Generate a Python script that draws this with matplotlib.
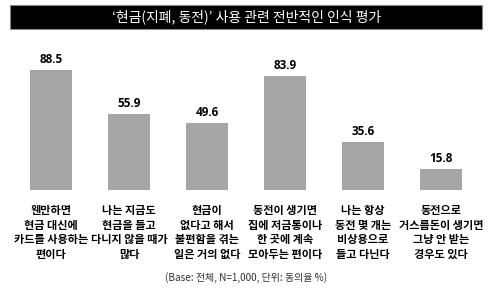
import matplotlib.pyplot as plt
from matplotlib.patches import Rectangle

plt.rcParams['font.family'] = ['Noto Sans CJK KR', 'DejaVu Sans']

title = "‘현금(지폐, 동전)’ 사용 관련 전반적인 인식 평가"
labels = [
    "웬만하면\n현금 대신에\n카드를 사용하는\n편이다",
    "나는 지금도\n현금을 들고\n다니지 않을 때가\n많다",
    "현금이\n없다고 해서\n불편함을 겪는\n일은 거의 없다",
    "동전이 생기면\n집에 저금통이나\n한 곳에 계속\n모아두는 편이다",
    "나는 항상\n동전 몇 개는\n비상용으로\n들고 다닌다",
    "동전으로\n거스름돈이 생기면\n그냥 안 받는\n경우도 있다",
]
values = [88.5, 55.9, 49.6, 83.9, 35.6, 15.8]
note = "(Base: 전체, N=1,000, 단위: 동의율 %)"

fig = plt.figure(figsize=(4.93, 3.03), dpi=100)
fig.patch.set_facecolor('white')

# title bar
fig.patches.append(Rectangle((10 / 493, 1 - 29 / 303), 472 / 493, 24 / 303,
                             transform=fig.transFigure, facecolor='black',
                             edgecolor='#888888', linewidth=0.8))
fig.text(0.5, 1 - 17 / 303, title, color='white', fontsize=10,
         ha='center', va='center')

ax = fig.add_axes([12 / 493, (303 - 190) / 303, 468 / 493, 135.6 / 303])
x = range(len(values))
ax.bar(x, values, width=0.54, color='#a6a6a6')
ax.set_xlim(-0.5, 5.5)
ax.set_ylim(0, 100)
ax.axis('off')

for i, v in enumerate(values):
    ax.text(i, v + 3, f"{v:.1f}", ha='center', va='bottom', fontsize=8.5,
            fontweight='bold', family=['Open Sans', 'DejaVu Sans'])
    ax.text(i, -10.5, labels[i], ha='center', va='top', fontsize=8,
            fontweight='bold', linespacing=1.15, clip_on=False)

fig.text(246 / 493, 1 - 278 / 303, note, ha='center', va='center',
         fontsize=7.2, color='#333333')

fig.savefig('out.png', dpi=100)
